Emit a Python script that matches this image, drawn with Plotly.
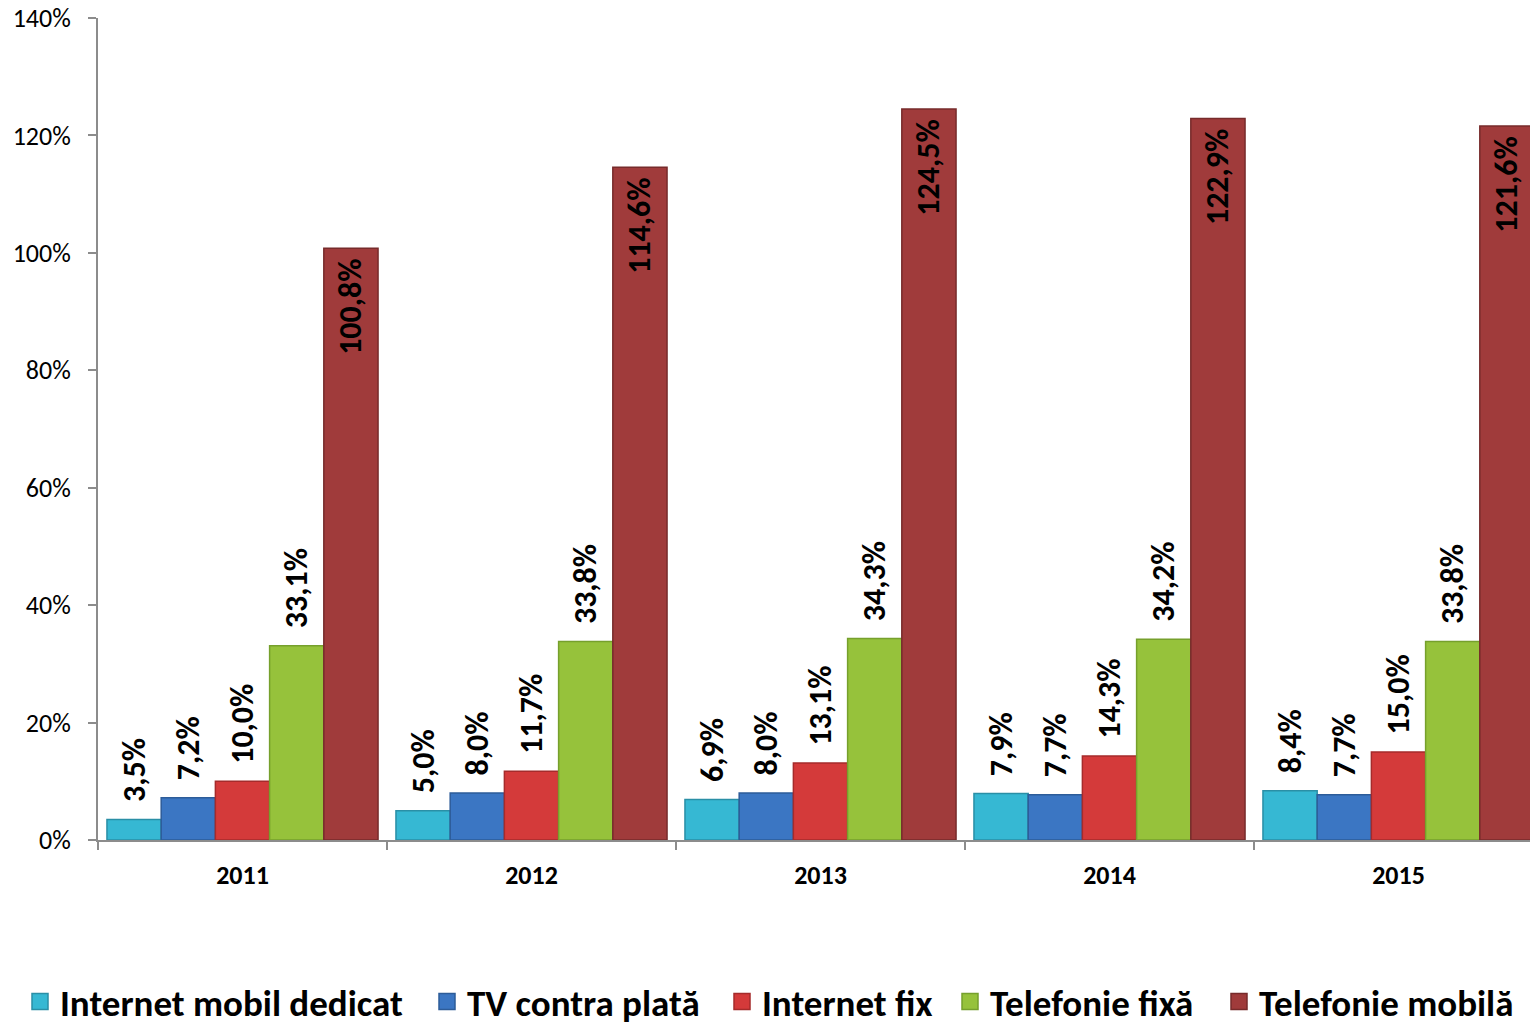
import plotly.graph_objects as go

years = ["2011", "2012", "2013", "2014", "2015"]
series_names = ["Internet mobil dedicat", "TV contra plată", "Internet fix", "Telefonie fixă", "Telefonie mobilă"]
internet_mobil = [3.5, 5.0, 6.9, 7.9, 8.4]
tv_plata = [7.2, 8.0, 8.0, 7.7, 7.7]
internet_fix = [10.0, 11.7, 13.1, 14.3, 15.0]
telefonie_fixa = [33.1, 33.8, 34.3, 34.2, 33.8]
telefonie_mobila = [100.8, 114.6, 124.5, 122.9, 121.6]
y_ticks = [0, 20, 40, 60, 80, 100, 120, 140]
y_tick_text = ["0%", "20%", "40%", "60%", "80%", "100%", "120%", "140%"]

values = [internet_mobil, tv_plata, internet_fix, telefonie_fixa, telefonie_mobila]
fills = ["#36B8D3", "#3B76C3", "#D43A3A", "#96C23B", "#A03B3B"]
edges = ["#2A8FA6", "#2D5C99", "#A52B2B", "#76A02C", "#772B2B"]
legend_x = [12, 419, 714, 942, 1211]  # left edge of each legend entry (px)

FONT = "Carlito, Calibri, 'Open Sans', sans-serif"
NB = "\u00a0"
W, H = 1538, 1022

fig = go.Figure()
for i, (name, vals) in enumerate(zip(series_names, values)):
    inside = (i == 4)
    lf = dict(family=FONT, size=32, color="black", weight="bold")
    fig.add_trace(go.Bar(
        x=years, y=vals, name=name, showlegend=False, legendgroup=name,
        marker=dict(color=fills[i], line=dict(color=edges[i], width=1.5)),
        texttemplate=("%{y:.1f}%" + NB) if inside else (NB * 2 + "%{y:.1f}%"),
        textposition="inside" if inside else "outside",
        insidetextanchor="end",
        textangle=-90,
        constraintext="none",
        cliponaxis=False,
        textfont=lf, outsidetextfont=lf, insidetextfont=lf,
    ))

legend_layouts = {}
for i, name in enumerate(series_names):
    lname = "legend" if i == 0 else f"legend{i + 1}"
    fig.add_trace(go.Scatter(
        x=[None], y=[None], mode="markers", name=name, legendgroup=name,
        legend=lname,
        marker=dict(symbol="square", size=24, color=fills[i],
                    line=dict(color=edges[i], width=1.5)),
    ))
    legend_layouts[lname] = dict(
        orientation="h", xref="container", yref="container",
        x=legend_x[i] / W, xanchor="left", y=0.0274, yanchor="middle",
        font=dict(family=FONT, size=37, color="black", weight="bold"),
        itemwidth=30, bgcolor="rgba(0,0,0,0)",
    )

fig.update_layout(
    width=W, height=H,
    margin=dict(l=90, r=3, t=10, b=190, autoexpand=False),
    paper_bgcolor="white", plot_bgcolor="white",
    barmode="group", bargap=0.062, bargroupgap=0,
    separators=",.",
    showlegend=True,
    **legend_layouts,
)
fig.update_yaxes(range=[0, 140], tickvals=y_ticks, ticktext=y_tick_text,
                 automargin=False, ticklabeloverflow="allow",
                 showgrid=False, zeroline=False,
                 showline=True, linecolor="#8C8C8C", linewidth=2,
                 ticks="outside", ticklen=8, tickcolor="#8C8C8C", tickwidth=2,
                 ticklabelstandoff=12,
                 tickfont=dict(family=FONT, size=26, color="black"))
fig.update_xaxes(automargin=False, ticklabeloverflow="allow",
                 showline=True, linecolor="#8C8C8C", linewidth=2,
                 ticks="outside", tickson="boundaries", ticklen=8, tickcolor="#8C8C8C", tickwidth=2,
                 ticklabelstandoff=11,
                 tickfont=dict(family=FONT, size=26, color="black", weight="bold"))

fig.write_html("out.html")
